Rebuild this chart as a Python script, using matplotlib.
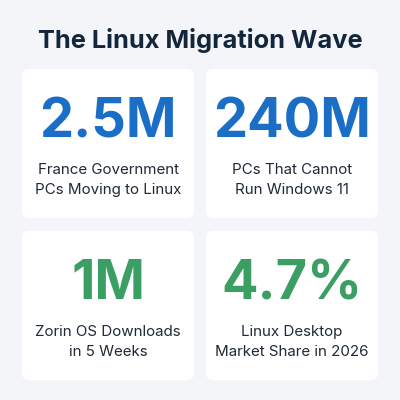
import matplotlib.pyplot as plt
from matplotlib.patches import FancyBboxPatch

# chart data
title = "The Linux Migration Wave"
values = ["2.5M", "240M", "1M", "4.7%"]
labels = ["France Government\nPCs Moving to Linux",
          "PCs That Cannot\nRun Windows 11",
          "Zorin OS Downloads\nin 5 Weeks",
          "Linux Desktop\nMarket Share in 2026"]
value_colors = ["#1b6ec5", "#1b6ec5", "#3b9f63", "#3b9f63"]

bg = "#f3f5f8"
plt.rcParams['font.family'] = ['Inter', 'DejaVu Sans']

fig = plt.figure(figsize=(4, 4), dpi=100, facecolor=bg)
ax = fig.add_axes([0, 0, 1, 1])
ax.set_xlim(0, 400)
ax.set_ylim(400, 0)
ax.axis('off')

ax.text(200, 48, title, ha='center', va='baseline', fontsize=18.3,
        fontweight='bold', color="#14263b")

card_w, card_h = 172, 149
lefts = [22, 206]
tops = [69, 231]
for i in range(len(values)):
    x0 = lefts[i % 2]
    y0 = tops[i // 2]
    card = FancyBboxPatch((x0, y0), card_w, card_h,
                          boxstyle="round,pad=0,rounding_size=7",
                          facecolor="white", edgecolor="none")
    ax.add_patch(card)
    cx = x0 + card_w / 2
    ax.text(cx, y0 + 68, values[i], ha='center', va='baseline', fontsize=39,
            fontweight='bold', color=value_colors[i])
    line1, line2 = labels[i].split("\n")
    ax.text(cx, y0 + 105, line1, ha='center', va='baseline', fontsize=10.9,
            color="#1f2a36")
    ax.text(cx, y0 + 125, line2, ha='center', va='baseline', fontsize=10.9,
            color="#1f2a36")

fig.savefig("out.png", dpi=100, facecolor=bg)
